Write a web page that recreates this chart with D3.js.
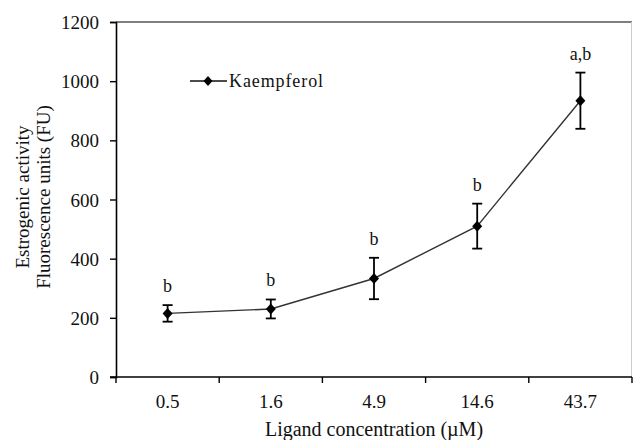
<!DOCTYPE html>
<html>
<head>
<meta charset="utf-8">
<script src="https://cdn.jsdelivr.net/npm/d3@7"></script>
<style>
  html, body { margin: 0; padding: 0; background: #fff; }
  svg { display: block; }
  text { font-family: "Liberation Serif", "Times New Roman", serif; fill: #111; }
</style>
</head>
<body>
<svg id="chart" width="633" height="440"></svg>
<script>
// ---- Data ----
const categories = ["0.5", "1.6", "4.9", "14.6", "43.7"];
const means      = [215, 230, 333, 510, 934];
const errors     = [28, 32, 70, 76, 95];
const sigLabels  = ["b", "b", "b", "b", "a,b"];
const yTicks     = [0, 200, 400, 600, 800, 1000, 1200];
const seriesName = "Kaempferol";

// ---- Layout ----
const W = 633, H = 440;
const m = { left: 116, right: 1, top: 22, bottom: 63 };
const svg = d3.select("#chart");

const x = d3.scaleBand().domain(categories).range([m.left, W - m.right]).paddingInner(0).paddingOuter(0);
const y = d3.scaleLinear().domain([0, 1200]).range([H - m.bottom, m.top]);

// frame lines (top & right)
svg.append("line").attr("x1", m.left).attr("x2", W - m.right).attr("y1", m.top).attr("y2", m.top)
  .attr("stroke", "#555").attr("stroke-width", 1.5);
svg.append("line").attr("x1", W - m.right - 0.5).attr("x2", W - m.right - 0.5).attr("y1", m.top).attr("y2", H - m.bottom)
  .attr("stroke", "#ccc").attr("stroke-width", 1);

// Y axis
const yAxis = svg.append("g").attr("transform", `translate(${m.left},0)`)
  .call(d3.axisLeft(y).tickValues(yTicks).tickSize(6).tickPadding(11).tickFormat(d3.format("d")));
yAxis.select(".domain").attr("stroke", "#000").attr("stroke-width", 1.6);
yAxis.selectAll(".tick line").attr("stroke", "#000").attr("stroke-width", 1.4);
yAxis.selectAll(".tick text").style("font-size", "19px").attr("dy", "0.35em");

// X axis: ticks at band boundaries
const xAxisG = svg.append("g").attr("transform", `translate(0,${y(0)})`);
xAxisG.append("line").attr("x1", m.left - 6).attr("x2", W - m.right).attr("y1", 0).attr("y2", 0)
  .attr("stroke", "#000").attr("stroke-width", 1.6);
const boundaries = categories.map(c => x(c)).concat([x(categories[categories.length - 1]) + x.bandwidth()]);
xAxisG.selectAll("line.tk").data(boundaries).join("line").attr("class", "tk")
  .attr("x1", d => d).attr("x2", d => d).attr("y1", 0).attr("y2", 6)
  .attr("stroke", "#000").attr("stroke-width", 1.4);
xAxisG.selectAll("text.tl").data(categories).join("text").attr("class", "tl")
  .attr("x", d => x(d) + x.bandwidth() / 2).attr("y", 31)
  .attr("text-anchor", "middle").style("font-size", "19px").text(d => d);

// Axis titles
svg.append("text").attr("x", m.left + (W - m.right - m.left) / 2).attr("y", 436)
  .attr("text-anchor", "middle").style("font-size", "20px").text("Ligand concentration (\u00B5M)");
const yt = svg.append("text").attr("transform", `translate(29,197) rotate(-90)`).attr("text-anchor", "middle").style("font-size", "19px");
yt.append("tspan").attr("x", 0).attr("dy", 0).text("Estrogenic activity");
yt.append("tspan").attr("x", 0).attr("dy", 21).text("Fluorescence units (FU)");

// Line
const cx = d => x(d) + x.bandwidth() / 2;
const pts = categories.map((c, i) => [cx(c), y(means[i])]);
svg.append("path").attr("d", d3.line()(pts)).attr("fill", "none").attr("stroke", "#333").attr("stroke-width", 1.4);

// Error bars
const eb = svg.append("g").attr("stroke", "#000").attr("stroke-width", 1.8);
categories.forEach((c, i) => {
  const X = cx(c), top = y(means[i] + errors[i]), bot = y(means[i] - errors[i]);
  eb.append("line").attr("x1", X).attr("x2", X).attr("y1", top).attr("y2", bot);
  eb.append("line").attr("x1", X - 5).attr("x2", X + 5).attr("y1", top).attr("y2", top);
  eb.append("line").attr("x1", X - 5).attr("x2", X + 5).attr("y1", bot).attr("y2", bot);
});

// Diamond markers
svg.selectAll("path.mk").data(pts).join("path").attr("class", "mk")
  .attr("transform", d => `translate(${d[0]},${d[1]})`)
  .attr("d", "M0,-5.5L5,0L0,5.5L-5,0Z").attr("fill", "#000");

// Significance labels
svg.selectAll("text.sig").data(categories).join("text").attr("class", "sig")
  .attr("x", d => cx(d)).attr("y", (d, i) => y(means[i] + errors[i]) - 13)
  .attr("text-anchor", "middle").style("font-size", "18px").text((d, i) => sigLabels[i]);

// Legend
const lg = svg.append("g");
lg.append("line").attr("x1", 190).attr("x2", 227).attr("y1", 81).attr("y2", 81).attr("stroke", "#111").attr("stroke-width", 1.6);
lg.append("path").attr("transform", "translate(208,81)").attr("d", "M0,-5L4.5,0L0,5L-4.5,0Z").attr("fill", "#000");
lg.append("text").attr("x", 229).attr("y", 87).style("font-size", "18px").style("letter-spacing", "0.9px").text(seriesName);
</script>
</body>
</html>
